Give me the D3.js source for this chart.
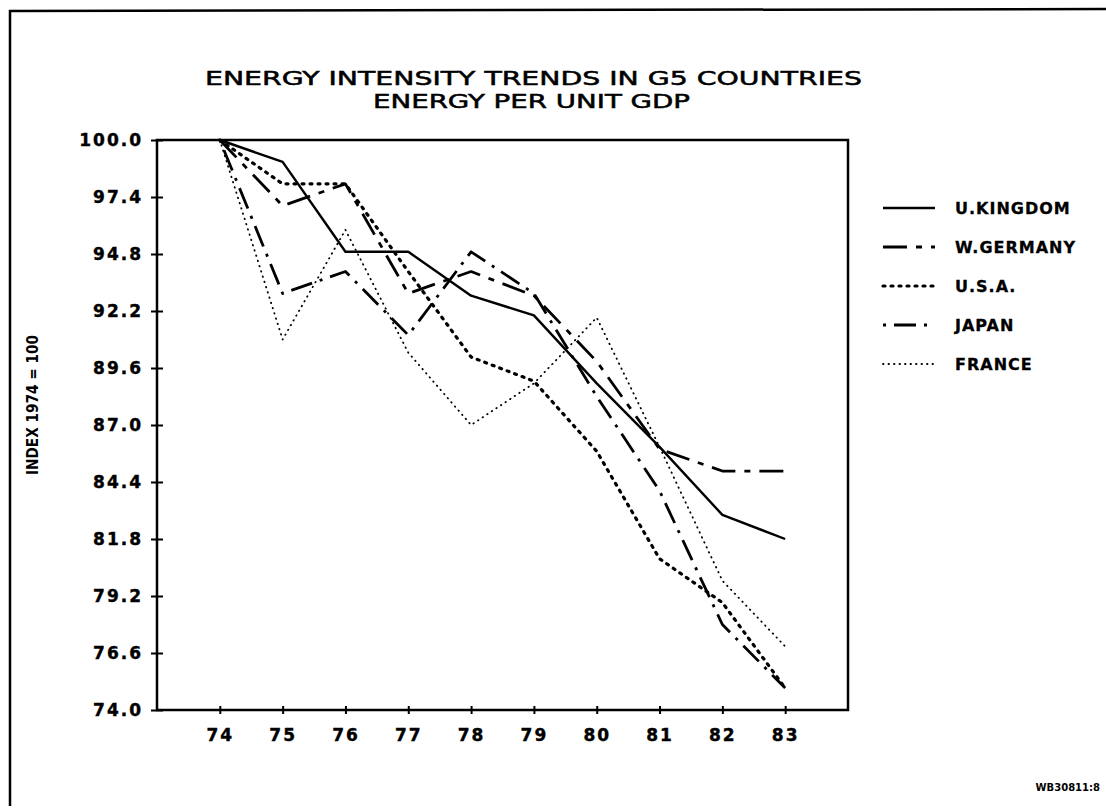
<!DOCTYPE html>
<html>
<head>
<meta charset="utf-8">
<script src="https://cdn.jsdelivr.net/npm/d3@7"></script>
<style>
  body { margin: 0; background: #fff; }
  svg { display: block; }
  text { font-family: "DejaVu Sans", sans-serif; fill: #000; }
</style>
</head>
<body>
<div id="chart"></div>
<script>
// Données (indice 1974 = 100)
const years = [74, 75, 76, 77, 78, 79, 80, 81, 82, 83];
const countries = ["U.KINGDOM", "W.GERMANY", "U.S.A.", "JAPAN", "FRANCE"];
const ukValues      = [100, 99.0, 94.9, 94.9, 92.9, 92.0, 88.9, 86.0, 82.9, 81.8];
const germanyValues = [100, 97.0, 98.0, 93.0, 94.0, 92.9, 89.9, 85.9, 84.9, 84.9];
const usaValues     = [100, 98.0, 98.0, 94.0, 90.1, 89.0, 85.8, 80.9, 78.9, 75.0];
const japanValues   = [100, 93.0, 94.0, 91.1, 94.9, 93.0, 88.3, 84.0, 77.9, 75.0];
const franceValues  = [100, 90.9, 95.9, 90.3, 87.0, 88.9, 91.9, 86.0, 79.9, 76.9];
const yTicks = [74.0, 76.6, 79.2, 81.8, 84.4, 87.0, 89.6, 92.2, 94.8, 97.4, 100.0];
const titleLines = ["ENERGY INTENSITY TRENDS IN G5 COUNTRIES", "ENERGY PER UNIT GDP"];
const yLabel = "INDEX 1974 = 100";
const figCode = "WB30811:8";

(function() {
    // Styles de trait
    const lineStyles = [
        { dash: null,           width: 2.4, cap: "butt" },
        { dash: "24,9,6,9",     width: 2.8, cap: "butt" },
        { dash: "2,6",          width: 3.2, cap: "round" },
        { dash: "3,8,22,8",     width: 2.8, cap: "butt" },
        { dash: "0.5,5",        width: 1.8, cap: "round" }
    ];
    const allValues = [ukValues, germanyValues, usaValues, japanValues, franceValues];

    const width = 1106, height = 809;
    const plotLeft = 157, plotRight = 848, plotTop = 140, plotBottom = 710;

    const svg = d3.select("#chart").append("svg")
        .attr("width", width)
        .attr("height", height);

    // Cadre extérieur
    svg.append("path")
        .attr("d", "M10,806 L10,11 L1106,9")
        .attr("fill", "none")
        .attr("stroke", "#000")
        .attr("stroke-width", 2.5);

    const x = d3.scaleLinear().domain([73, 84]).range([plotLeft, plotRight]);
    const y = d3.scaleLinear().domain([74, 100]).range([plotBottom, plotTop]);

    // Titre
    titleLines.forEach((t, i) => {
        svg.append("text")
            .attr("x", i === 0 ? 205 : 373)
            .attr("y", i === 0 ? 85 : 108)
            .attr("textLength", i === 0 ? 657 : 317)
            .attr("lengthAdjust", "spacingAndGlyphs")
            .style("font-size", "19px")
            .style("stroke", "#000")
            .style("stroke-width", 0.5)
            .text(t);
    });

    // Cadre du graphique
    svg.append("rect")
        .attr("x", plotLeft).attr("y", plotTop)
        .attr("width", plotRight - plotLeft).attr("height", plotBottom - plotTop)
        .attr("fill", "none")
        .attr("stroke", "#000")
        .attr("stroke-width", 2.5);

    // Axe Y
    const yAxis = svg.append("g")
        .attr("transform", `translate(${plotLeft},0)`)
        .call(d3.axisLeft(y).tickValues(yTicks).tickFormat(d3.format(".1f")).tickSize(6).tickPadding(8));
    yAxis.select(".domain").remove();
    yAxis.selectAll(".tick line").attr("x1", -6).attr("x2", 6).attr("stroke-width", 2);
    yAxis.selectAll(".tick text")
        .style("font-size", "17px")
        .style("font-weight", "bold")
        .style("font-family", "DejaVu Sans")
        .style("letter-spacing", "2px")
        .style("stroke", "#000")
        .style("stroke-width", 0.4);

    // Axe X
    const xAxis = svg.append("g")
        .attr("transform", `translate(0,${plotBottom})`)
        .call(d3.axisBottom(x).tickValues(years).tickFormat(d => d).tickSize(5).tickPadding(14));
    xAxis.select(".domain").remove();
    xAxis.selectAll(".tick line").attr("y1", -4).attr("y2", 4).attr("stroke-width", 2);
    xAxis.selectAll(".tick text")
        .style("font-size", "17px")
        .style("font-weight", "bold")
        .style("font-family", "DejaVu Sans")
        .style("letter-spacing", "2px")
        .style("stroke", "#000")
        .style("stroke-width", 0.4);

    // Titre axe Y
    svg.append("text")
        .attr("transform", "translate(38,405) rotate(-90)")
        .attr("text-anchor", "middle")
        .attr("textLength", 140)
        .attr("lengthAdjust", "spacingAndGlyphs")
        .style("font-size", "16px")
        .style("font-weight", "bold")
        .style("font-family", "DejaVu Sans Condensed")
        .text(yLabel);

    // Courbes
    const line = d3.line()
        .x((d, i) => x(years[i]))
        .y(d => y(d));

    allValues.forEach((vals, i) => {
        const s = lineStyles[i];
        svg.append("path")
            .datum(vals)
            .attr("d", line)
            .attr("fill", "none")
            .attr("stroke", "#000")
            .attr("stroke-width", s.width)
            .attr("stroke-linecap", s.cap)
            .attr("stroke-linejoin", "round")
            .attr("stroke-dasharray", s.dash);
    });

    // Légende
    const legend = svg.append("g").attr("transform", "translate(883,208)");
    countries.forEach((c, i) => {
        const s = lineStyles[i];
        const g = legend.append("g").attr("transform", `translate(0,${i * 39})`);
        g.append("line")
            .attr("x1", 0).attr("x2", 52)
            .attr("y1", 0).attr("y2", 0)
            .attr("stroke", "#000")
            .attr("stroke-width", s.width)
            .attr("stroke-linecap", s.cap)
            .attr("stroke-dasharray", s.dash);
        g.append("text")
            .attr("x", 72)
            .attr("y", 6)
            .style("font-size", "16px")
            .style("font-weight", "bold")
            .style("letter-spacing", "1px")
            .style("stroke", "#000")
            .style("stroke-width", 0.3)
            .text(c);
    });

    // Code figure
    svg.append("text")
        .attr("x", 1100)
        .attr("y", 791)
        .attr("text-anchor", "end")
        .style("font-size", "10px")
        .style("font-weight", "bold")
        .text(figCode);
})();
</script>
</body>
</html>
